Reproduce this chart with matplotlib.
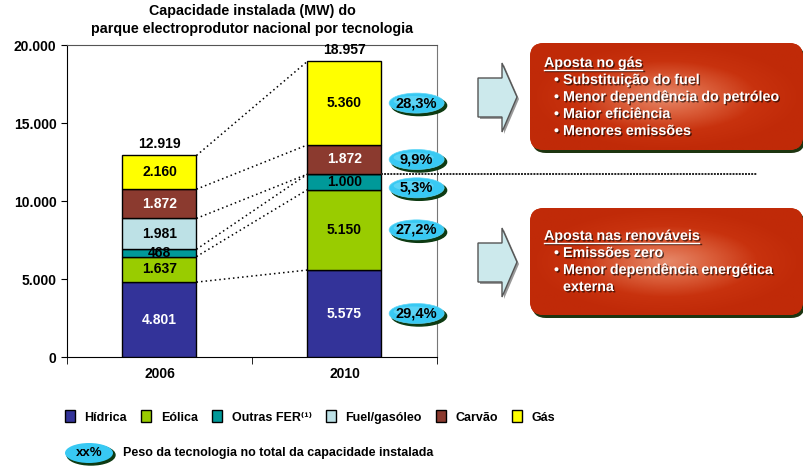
import numpy as np
import matplotlib.pyplot as plt
import matplotlib.patheffects as pe
from matplotlib.patches import Ellipse, FancyBboxPatch, Polygon
from matplotlib.colors import LinearSegmentedColormap

plt.rcParams['font.family'] = ['Liberation Sans', 'DejaVu Sans']
plt.rcParams['font.weight'] = 'bold'

# Dados (MW)
anos = ['2006', '2010']
tecnologias = ['Hídrica', 'Eólica', 'Outras FER⁽¹⁾', 'Fuel/gasóleo', 'Carvão', 'Gás']
hidrica = [4801, 5575]
eolica = [1637, 5150]
outras_fer = [468, 1000]
fuel = [1981, 0]
carvao = [1872, 1872]
gas = [2160, 5360]
series = [hidrica, eolica, outras_fer, fuel, carvao, gas]

cores = ['#333399', '#99cc00', '#009999', '#bde1e6', '#8b3a2f', '#ffff00']
cor_texto = ['white', 'black', 'black', 'black', 'white', 'black']

caixa_gas = ['Aposta no gás', 'Substituição do fuel', 'Menor dependência do petróleo',
             'Maior eficiência', 'Menores emissões']
caixa_ren = ['Aposta nas renováveis', 'Emissões zero', 'Menor dependência energética', 'externa']


def fmt(v):
    return f'{v:,}'.replace(',', '.')


fig = plt.figure(figsize=(8.04, 4.66), dpi=100)
ax = fig.add_axes([0.0833, 0.2339, 0.4602, 0.6695])

x = np.array([0.5, 1.5])
largura = 0.4
base = np.zeros(2)
topos = []
conts = []
for i, vals in enumerate(series):
    c = ax.bar(x, vals, largura, bottom=base, color=cores[i], edgecolor='black',
               linewidth=1, label=tecnologias[i], zorder=3)
    conts.append(c)
    ax.bar_label(c, labels=[fmt(v) if v > 0 else '' for v in vals], label_type='center',
                 color=cor_texto[i], fontsize=10, fontweight='bold', zorder=5)
    base = base + np.array(vals)
    topos.append(base.copy())

totais = base
ax.bar_label(conts[-1], labels=[fmt(int(t)) for t in totais], padding=3,
             fontsize=10, fontweight='bold')

# linhas de ligacao entre as barras
for t in topos:
    ax.plot([x[0] + largura / 2, x[1] - largura / 2], [t[0], t[1]], color='black',
            linestyle=(0, (1, 2)), linewidth=1.1, zorder=2)

# linha horizontal ao nivel das renovaveis
y_ren = topos[2][1]
ax.plot([x[1] + largura / 2, 3.73], [y_ren, y_ren], color='#222222',
        linestyle=(0, (1, 0.6)), linewidth=1.4, clip_on=False, zorder=4)

ax.set_xlim(0, 2)
ax.set_ylim(0, 20000)
ax.set_xticks(x, anos)
ax.set_xticks([0, 1, 2], minor=True)
ax.tick_params(axis='x', which='major', length=0, pad=7, labelsize=10)
ax.tick_params(axis='x', which='minor', length=5, direction='out')
yt = [0, 5000, 10000, 15000, 20000]
ax.set_yticks(yt, [fmt(v) for v in yt])
ax.tick_params(axis='y', length=4, direction='out', labelsize=10)
ax.spines['right'].set_color('#777777')
ax.spines['top'].set_color('#555555')
ax.set_title('Capacidade instalada (MW) do\nparque electroprodutor nacional por tecnologia',
             fontsize=10.3, fontweight='bold', pad=9, linespacing=1.3)

# bolhas com o peso da tecnologia em 2010
px_x = 0.4602 * 804 / 2
px_y = 0.6695 * 466 / 20000
bx = 1.89
ajuste = {2: -380}
for i, vals in enumerate(series):
    v = vals[1]
    if v == 0:
        continue
    cy = topos[i][1] - v / 2 + ajuste.get(i, 0)
    ax.add_patch(Ellipse((bx + 2.5 / px_x, cy - 2.5 / px_y), 55 / px_x, 20 / px_y,
                         color='#0d3a12', clip_on=False, zorder=6))
    ax.add_patch(Ellipse((bx, cy), 55 / px_x, 20 / px_y, facecolor='#38c9f3',
                         edgecolor='#5fd6f7', linewidth=0.5, clip_on=False, zorder=7))
    ax.add_patch(Ellipse((bx - 3 / px_x, cy + 2 / px_y), 40 / px_x, 10 / px_y,
                         facecolor='#7fe0fa', alpha=0.5, linewidth=0, clip_on=False, zorder=7))
    peso = f'{v / totais[1] * 100:.1f}%'.replace('.', ',')
    ax.text(bx, cy, peso, ha='center', va='center', fontsize=10.5, fontweight='bold',
            zorder=8, clip_on=False)

# camada em coordenadas de pixel para caixas, setas e legenda
ov = fig.add_axes([0, 0, 1, 1])
ov.set_zorder(5)
ov.axis('off')

cmap_red = LinearSegmentedColormap.from_list('red', ['#e6896a', '#da5e3a', '#c8320e', '#c02a08'])


def caixa(x0, y0, w, h, linhas, dy):
    ov.add_patch(FancyBboxPatch((x0 + 2, y0 + 3), w, h, boxstyle='round,pad=0,rounding_size=14',
                                facecolor='#1d3510', edgecolor='none', zorder=1))
    clip = FancyBboxPatch((x0, y0), w, h, boxstyle='round,pad=0,rounding_size=14',
                          facecolor='#c8320e', edgecolor='none', zorder=2)
    ov.add_patch(clip)
    gx, gy = np.meshgrid(np.linspace(-1, 1, 200), np.linspace(-1, 1, 100))
    r = np.clip(np.sqrt(gx ** 2 + gy ** 2), 0, 1)
    im = ov.imshow(r, extent=(x0, x0 + w, y0 + h, y0), cmap=cmap_red, vmin=0, vmax=1,
                   aspect='auto', zorder=3)
    im.set_clip_path(clip)
    sombra = [pe.withSimplePatchShadow(offset=(1, -1), shadow_rgbFace='black', alpha=0.6)]
    t = ov.text(x0 + 14, y0 + dy, linhas[0], color='white', fontsize=10.3, va='center',
                path_effects=sombra, zorder=4)
    for k, s in enumerate(linhas[1:]):
        yy = y0 + dy + 17 * (k + 1)
        if s != 'externa':
            ov.text(x0 + 24, yy, '•', color='white', fontsize=10.3, va='center',
                    path_effects=sombra, zorder=4)
        ov.text(x0 + 33, yy, s, color='white', fontsize=10.3, va='center',
                path_effects=sombra, zorder=4)
    return t


def seta(x0, yc):
    pts = [(x0, yc - 19), (x0 + 24, yc - 19), (x0 + 24, yc - 34), (x0 + 39, yc),
           (x0 + 24, yc + 35), (x0 + 24, yc + 20), (x0, yc + 20)]
    ov.add_patch(Polygon([(a + 2, b + 2) for a, b in pts], closed=True, facecolor='#999999',
                         edgecolor='none', zorder=1))
    ov.add_patch(Polygon(pts, closed=True, facecolor='#cce9ec', edgecolor='#555555',
                         linewidth=1, zorder=2))


seta(478, 97)
seta(478, 262)
t1 = caixa(530, 43, 273, 107, caixa_gas, 20)
t2 = caixa(530, 208, 273, 107, caixa_ren, 28)

# legenda
fig.legend(handles=conts, loc='center left', bbox_to_anchor=(60 / 804, 1 - 417 / 466),
           ncol=6, frameon=False, fontsize=9, handlelength=0.8, handleheight=1.1,
           handletextpad=0.75, columnspacing=1.15, borderaxespad=0)
ov.add_patch(Ellipse((91, 455), 48, 20, color='#0d3a12', zorder=1))
ov.add_patch(Ellipse((89, 453), 48, 20, facecolor='#38c9f3', edgecolor='none', zorder=2))
ov.text(89, 453, 'xx%', ha='center', va='center', fontsize=9.5, zorder=3)
ov.text(123, 453, 'Peso da tecnologia no total da capacidade instalada', va='center',
        fontsize=9, zorder=3)

ov.set_xlim(0, 804)
ov.set_ylim(466, 0)

# sublinhado dos titulos das caixas
fig.canvas.draw()
rend = fig.canvas.get_renderer()
inv = ov.transData.inverted()
for t in (t1, t2):
    bb = t.get_window_extent(rend)
    (xa, ya), (xb, yb) = inv.transform([(bb.x0, bb.y0), (bb.x1, bb.y0)])
    ov.plot([xa, xb], [ya, yb], color='white', linewidth=1, zorder=4,
            path_effects=[pe.SimpleLineShadow(offset=(1, -1), alpha=0.6), pe.Normal()])

fig.savefig('out.png', dpi=100)
